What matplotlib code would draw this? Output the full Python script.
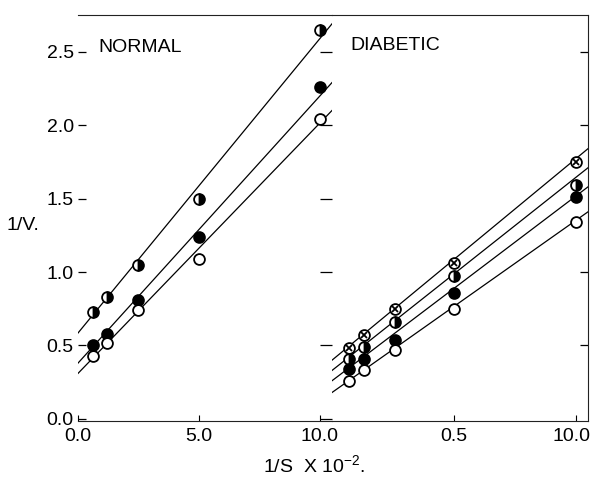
import matplotlib
matplotlib.use("Agg")
import matplotlib.pyplot as plt
import matplotlib.transforms as mtransforms
from matplotlib.lines import TICKLEFT

# ---- data ----
normal_x = [0.6, 1.2, 2.5, 5.0, 10.0]
normal_half = [0.73, 0.83, 1.05, 1.50, 2.65]
normal_filled = [0.50, 0.58, 0.81, 1.24, 2.26]
normal_open = [0.43, 0.52, 0.74, 1.09, 2.04]

fit_x = [0.0, 10.5]
normal_fit_half = [0.585, 2.69]
normal_fit_filled = [0.38, 2.29]
normal_fit_open = [0.31, 2.10]

diab_x = [0.7, 1.3, 2.6, 5.0, 10.0]
diab_cross = [0.48, 0.57, 0.75, 1.06, 1.75]
diab_half = [0.41, 0.49, 0.66, 0.97, 1.59]
diab_filled = [0.34, 0.41, 0.54, 0.86, 1.51]
diab_open = [0.26, 0.33, 0.47, 0.75, 1.34]

diab_fit_cross = [0.40, 1.84]
diab_fit_half = [0.33, 1.71]
diab_fit_filled = [0.26, 1.58]
diab_fit_open = [0.18, 1.41]

y_ticks = [0.0, 0.5, 1.0, 1.5, 2.0, 2.5]
y_ticklabels = ["0.0", "0.5", "1.0", "1.5", "2.0", "2.5"]
left_xticks = [0.0, 5.0, 10.0]
left_xticklabels = ["0.0", "5.0", "10.0"]
right_xticks = [5.0, 10.0]
right_xticklabels = ["0.5", "10.0"]

plt.rcParams['font.family'] = ['Liberation Sans', 'DejaVu Sans']
plt.rcParams['mathtext.fontset'] = 'custom'
plt.rcParams['mathtext.rm'] = 'Liberation Sans'
FS = 14

fig = plt.figure(figsize=(5.92, 4.78), dpi=100)
W, H = 592.0, 478.0
bot = 1 - 421 / H
hgt = (421 - 15) / H
axL = fig.add_axes([78 / W, bot, (332 - 78) / W, hgt])
axR = fig.add_axes([332 / W, bot, (588 - 332) / W, hgt])
for ax in (axL, axR):
    ax.set_facecolor("none")
    ax.set_xlim(0, 10.5)
    ax.set_ylim(-0.014, 2.75)
    for s in ax.spines.values():
        s.set_linewidth(0.8)
        s.set_color("#222222")

LW = 0.9
MS = 7.8
MEW = 1.3

def series(ax, x, y, fx, fy, style):
    ax.plot(fx, fy, color="black", lw=LW, zorder=2)
    if style == "open":
        ax.plot(x, y, "o", ms=MS, mfc="white", mec="black", mew=MEW, zorder=3, ls="none")
    elif style == "filled":
        ax.plot(x, y, "o", ms=MS, mfc="black", mec="black", mew=MEW, zorder=3, ls="none")
    elif style == "half":
        ax.plot(x, y, "o", ms=MS, fillstyle="right", mfc="black", mfcalt="white",
                mec="black", mew=MEW, zorder=3, ls="none")
    elif style == "cross":
        ax.plot(x, y, "o", ms=MS, mfc="white", mec="black", mew=MEW, zorder=3, ls="none")
        ax.plot(x, y, "x", ms=4.5, mec="black", mew=1.3, zorder=4, ls="none")

# NORMAL panel
series(axL, normal_x, normal_half, fit_x, normal_fit_half, "half")
series(axL, normal_x, normal_filled, fit_x, normal_fit_filled, "filled")
series(axL, normal_x, normal_open, fit_x, normal_fit_open, "open")

# DIABETIC panel
series(axR, diab_x, diab_cross, fit_x, diab_fit_cross, "cross")
series(axR, diab_x, diab_half, fit_x, diab_fit_half, "half")
series(axR, diab_x, diab_filled, fit_x, diab_fit_filled, "filled")
series(axR, diab_x, diab_open, fit_x, diab_fit_open, "open")

# left axes styling
axL.spines["left"].set_visible(False)
axL.spines["right"].set_visible(False)
axL.set_yticks(y_ticks)
axL.set_yticklabels(y_ticklabels, fontsize=FS)
axL.tick_params(axis="y", left=True, right=True, direction="in", length=6, width=0.9, pad=3)
axL.set_xticks(left_xticks)
axL.set_xticklabels(left_xticklabels, fontsize=FS)
axL.tick_params(axis="x", direction="in", length=4, width=0.8, pad=5)
for t in axL.yaxis.get_major_ticks():
    t.tick2line.set_marker(TICKLEFT)
    t.tick2line.set_markersize(9)

# right axes styling
axR.spines["left"].set_visible(False)
axR.set_yticks([0.5, 1.0, 2.0, 2.5])
axR.tick_params(axis="y", left=False, right=True, labelleft=False, direction="in",
                length=6, width=0.9)
axR.set_xticks(right_xticks)
axR.set_xticklabels(right_xticklabels, fontsize=FS)
axR.tick_params(axis="x", direction="in", length=4, width=0.8, pad=5)
shift = mtransforms.ScaledTranslation(-4 / 100, 0, fig.dpi_scale_trans)
lbl = axR.get_xticklabels()[-1]
lbl.set_transform(lbl.get_transform() + shift)

# panel titles
axL.text(0.83, 2.53, "NORMAL", fontsize=FS, ha="left", va="center")
axR.text(0.74, 2.54, "DIABETIC", fontsize=FS, ha="left", va="center")

# axis labels
fig.text(314 / W, 1 - 466 / H, r"1/S  X 10$^{-2}$.", fontsize=FS, ha="center", va="center")
fig.text(7 / W, 1 - 225 / H, "1/V.", fontsize=FS, ha="left", va="center")

fig.savefig("out.png", dpi=100)
